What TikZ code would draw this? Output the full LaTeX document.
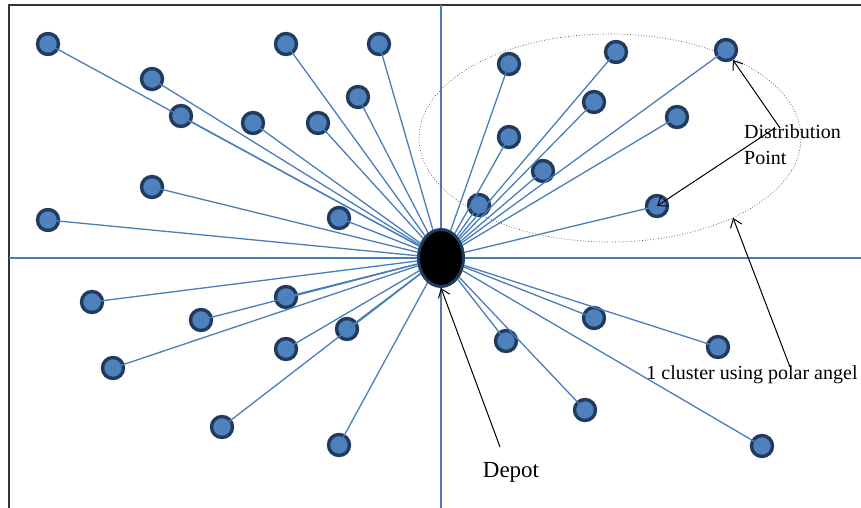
\documentclass[tikz,border=0pt]{standalone}
\usepackage{fontspec}
\setmainfont{Liberation Serif}
\usetikzlibrary{shapes.geometric,arrows.meta}
\definecolor{pointblue}{HTML}{4F81BD}
\definecolor{pointnavy}{HTML}{213B5E}
\definecolor{linkblue}{HTML}{4A7EBB}
\begin{document}
\begin{tikzpicture}[x=1pt,y=-1pt,
    >={Straight Barb[length=8pt,width=12pt]},
    dpoint/.style={circle,draw=pointnavy,line width=3.4pt,fill=pointblue,minimum size=21pt,inner sep=0pt},
    depot/.style={ellipse,draw=pointnavy,line width=3pt,fill=black,minimum width=45pt,minimum height=57pt,inner sep=0pt},
    link/.style={linkblue,line width=1.3pt},
    callout/.style={->,black,line width=1pt},
    lbl/.style={inner sep=0pt,font=\fontsize{20}{26}\selectfont}]
    \useasboundingbox (0,0) rectangle (861,508);
    % frame and axes
    \draw[black!80,line width=2pt] (9,508) -- (9,5) -- (861,5);
    \draw[linkblue,line width=1.4pt] (441,5) -- (441,508);
    \draw[linkblue,line width=1.4pt] (9,258) -- (861,258);
    % cluster boundary
    \node[ellipse,draw=black!70,dotted,line width=0.7pt,minimum width=382pt,minimum height=208pt] (cluster) at (610,138) {};
    % distribution points
    \foreach \n/\x/\y in {1/48/44, 2/152/79, 3/181/116, 4/253/123, 5/286/44, 6/379/44,
        7/358/97, 8/318/123, 9/152/187, 10/48/220, 11/339/218, 12/509/64, 13/616/52,
        14/726/50, 15/594/102, 16/677/117, 17/509/137, 18/543/171, 19/479/205, 20/657/206,
        21/92/302, 22/286/297, 23/201/320, 24/347/329, 25/286/349, 26/113/368, 27/222/427,
        28/339/445, 29/506/341, 30/594/318, 31/718/347, 32/585/410, 33/762/446}
        \node[dpoint] (d\n) at (\x,\y) {};
    \node[depot] (depot) at (441,258) {};
    \foreach \n in {1,...,33} \draw[link] (depot) -- (d\n.center);
    % labels
    \node[lbl,anchor=north west,align=left] (distlabel) at (744,124) {Distribution\\Point};
    \node[lbl,anchor=base] (clusterlabel) at (752,379) {1 cluster using polar angel};
    \node[inner sep=0pt,font=\fontsize{23}{28}\selectfont,anchor=base] (depotlabel) at (511,477) {Depot};
    \coordinate (dtail1) at (780,128);
    \coordinate (dtail2) at (775,128);
    \coordinate (ctail) at (790,367);
    \coordinate (ptail) at (500,447);
    \draw[callout] (dtail1) -- (d14);
    \draw[callout] (dtail2) -- (d20.center);
    \draw[callout] (ctail) -- (cluster.-33);
    \draw[callout] (ptail) -- (depot.south);
\end{tikzpicture}
\end{document}
